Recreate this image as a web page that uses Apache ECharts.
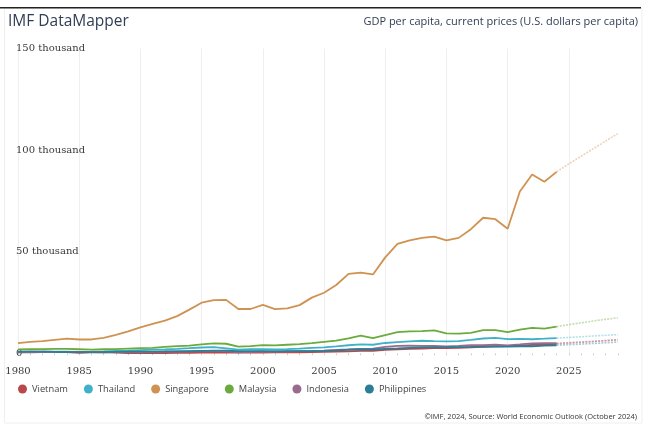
<!DOCTYPE html>
<html>
<head>
<meta charset="utf-8">
<script src="https://cdn.jsdelivr.net/npm/echarts@6/dist/echarts.min.js"></script>
<style>
html,body{margin:0;padding:0;background:#fff;}
#chart{width:656px;height:431px;}
</style>
</head>
<body>
<div id="chart"></div>
<script>
// ---- data ----
const years = [];
for (let y = 1980; y <= 2029; y++) years.push(String(y));
const lastActualYear = '2024';
const yTickLabels = ['0', '50 thousand', '100 thousand', '150 thousand'];
const countries = ['Vietnam', 'Thailand', 'Singapore', 'Malaysia', 'Indonesia', 'Philippines'];
const colors = ['#b8484c', '#3fb1c9', '#d09251', '#6bab3e', '#9b6b8f', '#2b7e93'];

const vietnam = [500,520,540,580,620,240,420,580,400,100,100,140,150,190,225,290,340,360,350,360,395,410,440,490,560,700,800,920,1150,1220,1660,1960,2200,2370,2560,2600,2720,2960,3220,3440,3550,3740,4120,4320,4620,4990,5390,5810,6260,6740];
const thailand = [700,750,780,820,840,750,820,940,1120,1300,1560,1760,1960,2200,2500,2850,3040,2470,1830,2030,2000,1880,2100,2350,2660,2890,3370,3960,4380,4210,5080,5490,5860,6170,5950,5840,5990,6590,7290,7630,7000,7060,6910,7180,7480,7800,8150,8500,8850,9200];
const singapore = [5000,5600,6000,6600,7200,6800,6800,7600,9100,10800,12800,14500,16100,18300,21500,24900,26200,26300,21800,21800,23800,21700,22100,23700,27400,29800,33600,39100,39700,38800,47200,53800,55600,56800,57400,55600,56800,61100,66700,66000,61300,79600,88000,84400,89300,93200,97000,100700,104400,108100];
const malaysia = [1900,2000,2100,2150,2200,2000,1800,2000,2100,2300,2500,2700,3200,3500,3800,4400,4900,4700,3300,3500,4000,3900,4200,4500,5000,5600,6200,7300,8700,7500,9000,10400,10800,10900,11300,9800,9700,10100,11400,11400,10400,11600,12500,12100,13100,14100,15000,15900,16700,17500];
const indonesia = [670,770,790,680,690,670,600,520,560,610,680,740,790,890,970,1080,1180,1100,490,710,870,800,960,1100,1190,1320,1640,1900,2210,2300,3180,3690,3740,3690,3590,3400,3640,3950,4020,4230,3940,4390,4860,4940,4980,5270,5560,5880,6200,6540];
const philippines = [770,820,820,700,640,610,580,640,710,790,800,810,920,930,1090,1220,1330,1280,1000,1110,1070,990,1030,1030,1110,1230,1450,1740,1990,1880,2220,2450,2690,2870,2960,3000,3070,3120,3250,3430,3240,3460,3480,3730,3970,4250,4540,4850,5170,5510];
const seriesValues = [vietnam, thailand, singapore, malaysia, indonesia, philippines];

// ---- build ----
const splitIdx = years.indexOf(lastActualYear);
const series = [];
countries.forEach((name, i) => {
  const vals = seriesValues[i];
  series.push({
    name, type: 'line', data: vals.map((v, k) => k <= splitIdx ? v : null),
    showSymbol: false, symbol: 'none', color: colors[i],
    lineStyle: { width: 1.8, color: colors[i] }, z: 3 + i, silent: true
  });
  series.push({
    name, type: 'line', data: vals.map((v, k) => k >= splitIdx ? v : null),
    showSymbol: false, symbol: 'none', color: colors[i],
    lineStyle: { width: 1.6, color: colors[i], opacity: 0.4, type: [2, 1.2] }, z: 2, silent: true
  });
});

const chart = echarts.init(document.getElementById('chart'), null, { renderer: 'canvas' });
const every5 = (idx) => idx % 5 === 0;
const serif = 'DejaVu Serif';
chart.setOption({
  animation: false,
  backgroundColor: '#fff',
  grid: { left: 18, right: 38.2, top: 48.5, bottom: 77.7, containLabel: false },
  xAxis: {
    type: 'category', data: years, boundaryGap: false, offset: 8,
    axisLine: { show: false },
    axisTick: { show: true, interval: 0, length: 2, lineStyle: { color: '#cfcfcf' } },
    axisLabel: { interval: every5, margin: 5.5, fontFamily: serif, fontSize: 10, color: '#3a3a3a' },
    splitLine: { show: true, interval: every5, lineStyle: { color: '#eeeeee', width: 1 } }
  },
  yAxis: {
    type: 'value', min: 0, max: 150000, interval: 50000,
    axisLine: { show: false }, axisTick: { show: false }, splitLine: { show: false },
    axisLabel: {
      inside: true, margin: -2, fontFamily: serif, fontSize: 10, color: '#3a3a3a',
      padding: [0, 0, 5, 0],
      formatter: (v) => yTickLabels[Math.round(v / 50000)]
    }
  },
  legend: {
    data: countries, left: 18, top: 384.5, padding: 0, icon: 'circle', itemWidth: 9, itemHeight: 9, itemGap: 16,
    textStyle: { fontFamily: 'Open Sans', fontSize: 9.3, color: '#444' }
  },
  graphic: [
    { type: 'rect', shape: { x: 4.5, y: 8, width: 637.5, height: 415 }, style: { fill: 'none', stroke: '#efefef', lineWidth: 1 }, silent: true },
    { type: 'rect', shape: { x: 0, y: 7, width: 641, height: 1.5 }, style: { fill: '#222' }, silent: true },
    { type: 'text', x: 8, y: 22, style: { text: 'IMF DataMapper', fontFamily: 'Open Sans', fontSize: 15.5, fill: '#2f3e55', textVerticalAlign: 'middle' } },
    { type: 'text', x: 638, y: 22, style: { text: 'GDP per capita, current prices (U.S. dollars per capita)', fontFamily: 'Open Sans', fontSize: 11, fill: '#2f3e55', textAlign: 'right', textVerticalAlign: 'middle' } },
    { type: 'text', x: 637, y: 417, style: { text: '©IMF, 2024, Source: World Economic Outlook (October 2024)', fontFamily: 'Open Sans', fontSize: 7.5, fill: '#333', textAlign: 'right', textVerticalAlign: 'middle' } }
  ],
  series
});
</script>
</body>
</html>
